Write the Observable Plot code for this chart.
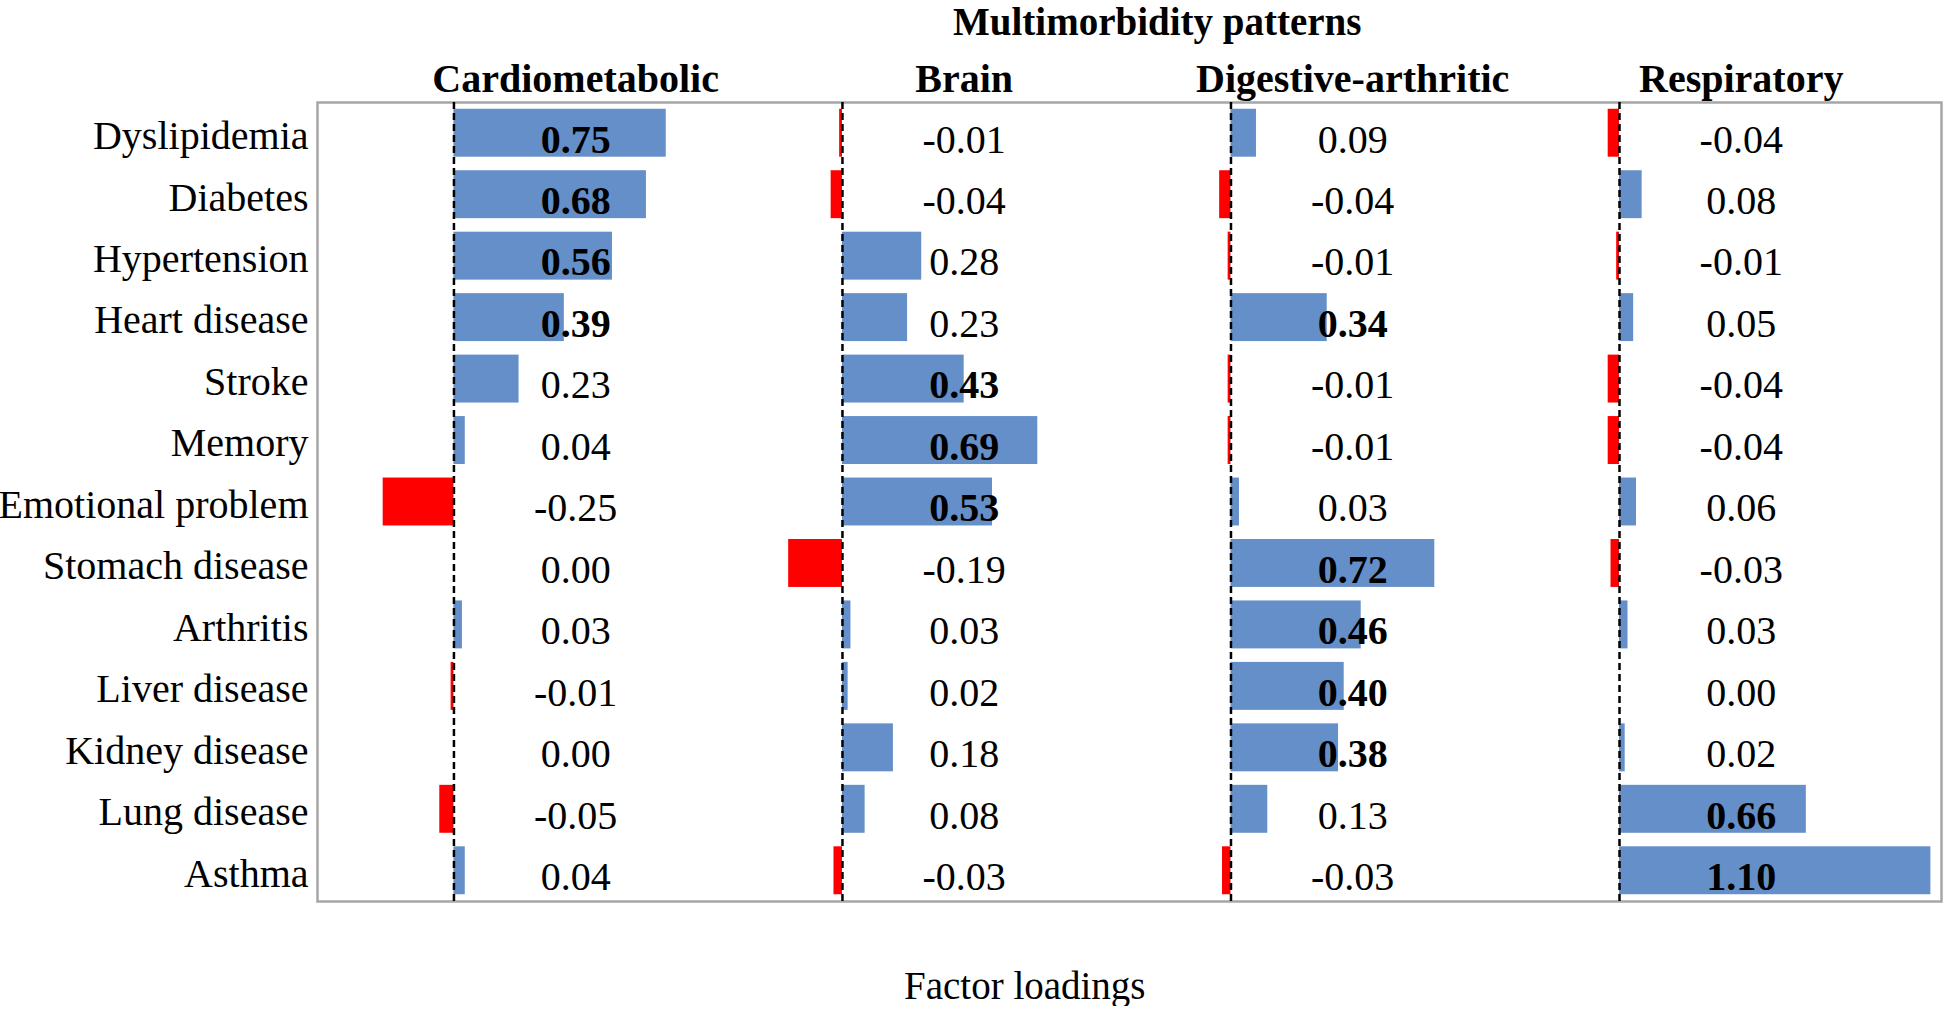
<!DOCTYPE html>
<html><head><meta charset="utf-8">
<script src="https://cdn.jsdelivr.net/npm/d3@7"></script>
<script src="https://cdn.jsdelivr.net/npm/@observablehq/plot@0.6"></script>
<style>
body{margin:0;background:#fff;font-family:"Liberation Serif","Times New Roman",serif;color:#000;}
#title{height:44px;line-height:44px;font-size:39px;font-weight:bold;padding-left:953px;white-space:nowrap;}
#caption{margin-top:42px;line-height:40px;font-size:39px;padding-left:904px;white-space:nowrap;}
</style></head><body>
<div id="title">Multimorbidity patterns</div>
<div id="chart"></div>
<div id="caption">Factor loadings</div>
<script>
const diseases = ["Dyslipidemia","Diabetes","Hypertension","Heart disease","Stroke","Memory","Emotional problem","Stomach disease","Arthritis","Liver disease","Kidney disease","Lung disease","Asthma"];
const patterns = ["Cardiometabolic","Brain","Digestive-arthritic","Respiratory"];
const cardiometabolic    = [0.75, 0.68, 0.56, 0.39, 0.23, 0.04, -0.25, 0.00, 0.03, -0.01, 0.00, -0.05, 0.04];
const brain              = [-0.01, -0.04, 0.28, 0.23, 0.43, 0.69, 0.53, -0.19, 0.03, 0.02, 0.18, 0.08, -0.03];
const digestiveArthritic = [0.09, -0.04, -0.01, 0.34, -0.01, -0.01, 0.03, 0.72, 0.46, 0.40, 0.38, 0.13, -0.03];
const respiratory        = [-0.04, 0.08, -0.01, 0.05, -0.04, -0.04, 0.06, -0.03, 0.03, 0.00, 0.02, 0.66, 1.10];
const seriesValues = [cardiometabolic, brain, digestiveArthritic, respiratory];
const boldThreshold = 0.3;

const panelStep = 1.3725;  // x-units between the zero lines of adjacent panels
const labelShift = 0.43;   // value labels / headers sit right of each zero line
const rows = patterns.flatMap((p, i) => diseases.map((d, j) => ({pattern: p, disease: d, value: seriesValues[i][j], base: i * panelStep})));
const zeros = patterns.map((p, i) => ({pattern: p, base: i * panelStep}));

const chart = Plot.plot({
  width: 1944, height: 880,
  marginLeft: 317, marginRight: 3, marginTop: 58, marginBottom: 23,
  style: {fontFamily: "Liberation Serif, Times New Roman, serif", fontSize: "40px", color: "#000", background: "#fff", overflow: "visible"},
  x: {domain: [-0.482, 5.255], axis: null},
  y: {domain: diseases, paddingInner: 0.22, paddingOuter: 0.11, round: false, axis: null},
  marks: [
    Plot.frame({stroke: "#a6a6a6", strokeWidth: 2.5}),
    Plot.barX(rows, {y: "disease", x1: "base", x2: d => d.base + d.value, fill: d => d.value < 0 ? "#ff0000" : "#658fc8"}),
    Plot.ruleX(zeros, {x: "base", stroke: "#000", strokeWidth: 2.5, strokeDasharray: "7,4"}),
    Plot.text(rows.filter(d => Math.abs(d.value) < boldThreshold), {y: "disease", x: d => d.base + labelShift, text: d => d.value.toFixed(2), fill: "#000", dy: 6.5}),
    Plot.text(rows.filter(d => Math.abs(d.value) >= boldThreshold), {y: "disease", x: d => d.base + labelShift, text: d => d.value.toFixed(2), fill: "#000", fontWeight: "bold", dy: 6.5}),
    Plot.text(diseases, {y: d => d, text: d => d, frameAnchor: "left", textAnchor: "end", dx: -9, dy: 3, fill: "#000"}),
    Plot.text(zeros, {x: d => d.base + labelShift, text: "pattern", frameAnchor: "top", lineAnchor: "bottom", dy: -11, fontWeight: "bold", fill: "#000"})
  ]
});
document.getElementById("chart").appendChild(chart);
</script>
</body></html>
